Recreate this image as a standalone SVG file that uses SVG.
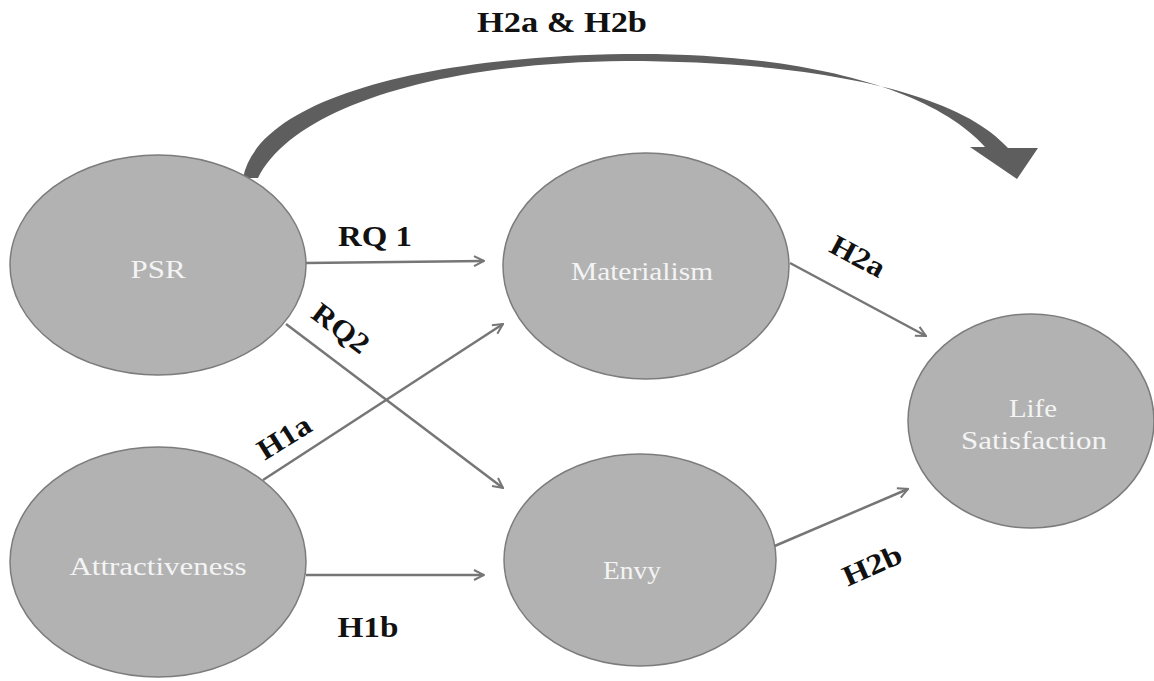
<svg xmlns="http://www.w3.org/2000/svg" width="1154" height="681" viewBox="0 0 1154 681">
<defs>
<marker id="arr" viewBox="0 0 12 12" refX="11" refY="6" markerWidth="12" markerHeight="12" markerUnits="userSpaceOnUse" orient="auto">
<path d="M1,1 L11,6 L1,11" fill="none" stroke="#767676" stroke-width="2"/>
</marker>
</defs>
<style>
.node{fill:#b2b2b2;stroke:#7c7c7c;stroke-width:1.5}
.nt{font-family:"Liberation Serif","Times New Roman",serif;font-size:26px;fill:#f4f4f4;text-anchor:middle}
.lab{font-family:"Liberation Serif","Times New Roman",serif;font-size:29px;font-weight:bold;fill:#111;text-anchor:middle}
.con{stroke:#767676;stroke-width:2.5;fill:none;marker-end:url(#arr)}
</style>
<rect width="1154" height="681" fill="#fff"/>
<g id="connectors">
<path d="M243 178 C258 100 420 57 625 54 C790 52 930 85 985 147 L970 147 L1017 179 L1038 148 L1008 148 C955 88 800 61 625 61 C430 63 292 110 258 178 Z" fill="#5e5e5e"/>
<line class="con" x1="306" y1="263" x2="484" y2="261"/>
<line class="con" x1="286" y1="324" x2="503" y2="488"/>
<line class="con" x1="263" y1="480" x2="503" y2="324"/>
<line class="con" x1="306" y1="575" x2="484" y2="575"/>
<line class="con" x1="790" y1="263" x2="926" y2="336"/>
<line class="con" x1="770" y1="548" x2="908" y2="489"/>
<text class="lab" x="562" y="32" textLength="170" lengthAdjust="spacingAndGlyphs">H2a &amp; H2b</text>
<text class="lab" x="375" y="246" textLength="74" lengthAdjust="spacingAndGlyphs">RQ 1</text>
<text class="lab" x="368" y="637" textLength="61" lengthAdjust="spacingAndGlyphs">H1b</text>
<text class="lab" transform="translate(341,328) rotate(37)" x="0" y="10" textLength="64" lengthAdjust="spacingAndGlyphs">RQ2</text>
<text class="lab" transform="translate(858,256) rotate(28)" x="0" y="10" textLength="58" lengthAdjust="spacingAndGlyphs">H2a</text>
<text class="lab" transform="translate(872,565) rotate(-24)" x="0" y="10" textLength="62" lengthAdjust="spacingAndGlyphs">H2b</text>
<text class="lab" transform="translate(284,437) rotate(-32)" x="0" y="10" textLength="58" lengthAdjust="spacingAndGlyphs">H1a</text>
</g>
<g id="psr">
<ellipse class="node" cx="158" cy="265" rx="148" ry="110"/>
<text class="nt" x="158" y="278" textLength="55" lengthAdjust="spacingAndGlyphs">PSR</text>
</g>
<g id="attractiveness">
<ellipse class="node" cx="158" cy="562" rx="148" ry="115"/>
<text class="nt" x="158" y="575" textLength="177" lengthAdjust="spacingAndGlyphs">Attractiveness</text>
</g>
<g id="materialism">
<ellipse class="node" cx="646" cy="266" rx="143" ry="113"/>
<text class="nt" x="642" y="280" textLength="142" lengthAdjust="spacingAndGlyphs">Materialism</text>
</g>
<g id="envy">
<ellipse class="node" cx="640" cy="560" rx="136" ry="106"/>
<text class="nt" x="632" y="579" textLength="58" lengthAdjust="spacingAndGlyphs">Envy</text>
</g>
<g id="life">
<ellipse class="node" cx="1031" cy="421" rx="123" ry="107"/>
<text class="nt" x="1033" y="417" textLength="48" lengthAdjust="spacingAndGlyphs">Life</text>
<text class="nt" x="1034" y="449" textLength="146" lengthAdjust="spacingAndGlyphs">Satisfaction</text>
</g>
</svg>
